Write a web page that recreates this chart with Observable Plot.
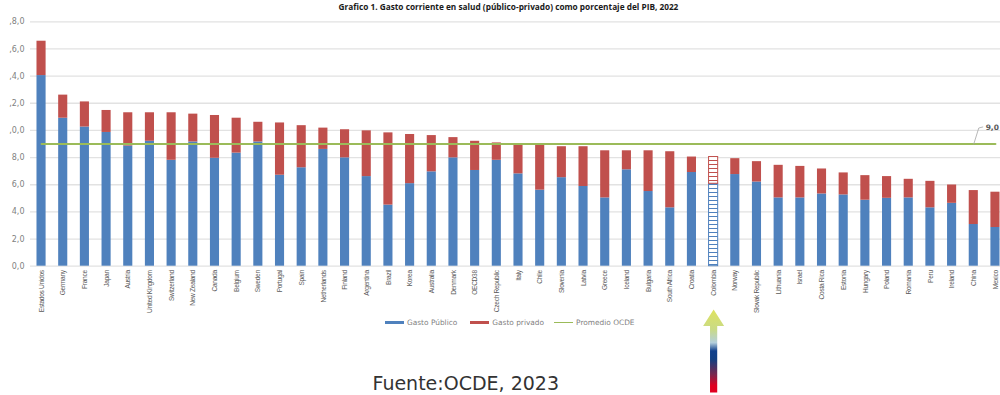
<!DOCTYPE html>
<html lang="es">
<head>
<meta charset="utf-8">
<script src="https://cdn.jsdelivr.net/npm/d3@7"></script>
<script src="https://cdn.jsdelivr.net/npm/@observablehq/plot@0.6"></script>
<style>
  html, body { margin: 0; padding: 0; background: #fff; overflow: hidden; }
  #chart { position: relative; width: 1000px; height: 395px; }
  #chart svg { display: block; }
  #chart svg g[aria-label="x-axis tick label"] text { letter-spacing: -0.3px; }
  .legend { position: absolute; top: 317px; left: 385px; display: flex; align-items: center; height: 11px;
            font: 7.4px "DejaVu Sans", sans-serif; color: #7f7f7f; white-space: nowrap; }
  .legend i { display: inline-block; width: 19px; margin-right: 3px; }
  .legend span { margin-right: 13px; }
  .legend span.tight { margin-right: 10px; }
</style>
</head>
<body>
<div id="chart"></div>
<script>
const countries = ["Estados Unidos","Germany","France","Japan","Austria","United Kingdom","Switzerland","New Zealand","Canada","Belgium","Sweden","Portugal","Spain","Netherlands","Finland","Argentina","Brazil","Korea","Australia","Denmark","OECD38","Czech Republic","Italy","Chile","Slovenia","Latvia","Greece","Iceland","Bulgaria","South Africa","Croatia","Colombia","Norway","Slovak Republic","Lithuania","Israel","Costa Rica","Estonia","Hungary","Poland","Romania","Peru","Ireland","China","Mexico"];
const publicSpend = [14.04,10.9,10.25,9.85,8.85,9.2,7.8,9.15,7.95,8.33,9.15,6.7,7.25,8.6,7.98,6.6,4.5,6.08,6.95,7.98,7.05,7.8,6.8,5.6,6.52,5.87,5.03,7.1,5.5,4.3,6.9,6.07,6.75,6.2,5.03,5.03,5.32,5.25,4.86,5.0,5.03,4.3,4.63,3.07,2.85];
const privateSpend = [2.53,1.7,1.85,1.62,2.45,2.1,3.5,2.05,3.15,2.57,1.45,3.85,3.1,1.57,2.07,3.37,5.32,3.62,2.67,1.49,2.15,1.28,2.13,3.3,2.28,2.93,3.47,1.4,3.0,4.13,1.14,1.97,1.17,1.5,2.4,2.32,1.84,1.62,1.81,1.6,1.37,1.95,1.35,2.5,2.6];
const oecdAverage = 9;
const yTicks = [0,2,4,6,8,10,12,14,16,18];
const yTickLabels = ["0,0","2,0","4,0","6,0","8,0",",0,0",",2,0",",4,0",",6,0",",8,0"];
const arrowBase = -9.3;

const BLUE = "#4f81bd", RED = "#c0504d", GREEN = "#9bbb59";

const rows = countries.map((country, i) => ({
  country, pub: publicSpend[i], priv: privateSpend[i], total: publicSpend[i] + privateSpend[i], avg: oecdAverage
}));
const solid = rows.filter(d => d.country !== "Colombia");
const hatched = rows.filter(d => d.country === "Colombia");

// Elbow leader running from the average line up to its value label
const leaderShape = {
  draw(context) {
    context.moveTo(0, 0);
    context.lineTo(5, -16);
    context.lineTo(9, -17);
  }
};
// Block arrow pointing up at the highlighted country
const arrowShape = {
  draw(context, l) {
    context.moveTo(0, -l);
    context.lineTo(10.5, -l + 16.5);
    context.lineTo(3.6, -l + 16.5);
    context.lineTo(3.6, 0);
    context.lineTo(-3.6, 0);
    context.lineTo(-3.6, -l + 16.5);
    context.lineTo(-10.5, -l + 16.5);
    context.closePath();
  }
};

const chart = Plot.plot({
  width: 1000,
  height: 395,
  marginLeft: 30,
  marginRight: 0,
  marginTop: 0,
  marginBottom: 129.3,
  style: { background: "#fff", overflow: "hidden" },
  x: { type: "band", domain: countries, range: [30.2, 1005.8], paddingInner: 0.58, paddingOuter: 0.29, label: null },
  y: { domain: [0, 18], range: [265.7, 21.3], label: null },
  marks: [
    Plot.ruleY(yTicks, { stroke: "#e2e2e2", strokeWidth: 1.3 }),
    Plot.axisY({
      ticks: yTicks, tickSize: 0, tickPadding: 6, label: null,
      tickFormat: d => yTickLabels[yTicks.indexOf(d)],
      fontSize: 8, fontFamily: "DejaVu Sans", fill: "#7f7f7f"
    }),
    Plot.axisX({
      tickSize: 0, tickPadding: 4, tickRotate: -90, label: null,
      fontSize: 6.6, fontFamily: "Liberation Sans", fill: "#595959"
    }),
    Plot.barY(solid, { x: "country", y1: 0, y2: "pub", fill: BLUE }),
    Plot.barY(solid, { x: "country", y1: "pub", y2: "total", fill: RED }),
    Plot.barY(hatched, { x: "country", y1: 0, y2: "pub", fill: "url(#hatch-blue)", stroke: BLUE, strokeWidth: 1 }),
    Plot.barY(hatched, { x: "country", y1: "pub", y2: "total", fill: "url(#hatch-red)", stroke: RED, strokeWidth: 1 }),
    Plot.line(rows, { x: "country", y: "avg", stroke: GREEN, strokeWidth: 2 }),
    Plot.vector(rows.filter(d => d.country === "China"), {
      x: "country", y: "avg", length: 17, anchor: "start", shape: leaderShape, stroke: "#a6a6a6", strokeWidth: 0.8
    }),
    Plot.text(rows.filter(d => d.country === "China"), {
      x: "country", y: "avg", text: d => d3.format(".1f")(d.avg).replace(".", ","),
      dx: 18.5, dy: -16, fontSize: 7.5, fontWeight: "bold", fontFamily: "DejaVu Sans", fill: "#595959"
    }),
    Plot.vector(hatched, {
      x: "country", y: () => arrowBase, length: 83, anchor: "start", shape: arrowShape,
      fill: "url(#arrow-fade)", stroke: "none"
    }),
    Plot.text(["Grafico 1. Gasto corriente en salud (público-privado) como porcentaje del PIB, 2022"], {
      frameAnchor: "top-left", dx: 308, dy: 3.5, textAnchor: "start", fontSize: 8.27, fontWeight: "bold",
      fontFamily: "Open Sans", fill: "#1a1a1a"
    }),
    Plot.text(["Fuente:OCDE, 2023"], {
      frameAnchor: "top-left", dx: 342, dy: 376, textAnchor: "start", fontSize: 19,
      fontFamily: "DejaVu Sans", fill: "#333333"
    })
  ]
});

// Stripe fills for the highlighted bar and the colour ramp of the arrow
const defs = d3.select(chart).insert("defs", ":first-child");
[["hatch-blue", BLUE], ["hatch-red", RED]].forEach(([id, color]) => {
  const p = defs.append("pattern").attr("id", id).attr("patternUnits", "userSpaceOnUse")
    .attr("width", 8).attr("height", 4);
  p.append("rect").attr("width", 8).attr("height", 4).attr("fill", "#fff");
  p.append("rect").attr("width", 8).attr("height", 1).attr("fill", color);
});
const ramp = defs.append("linearGradient").attr("id", "arrow-fade")
  .attr("x1", 0).attr("y1", 0).attr("x2", 0).attr("y2", 1);
[[0, "#dfe35f"], [0.24, "#c9da86"], [0.4, "#b4cfdc"], [0.5, "#10408c"], [0.6, "#123f82"], [0.78, "#77284f"], [0.92, "#e00020"], [1, "#e00020"]]
  .forEach(([o, c]) => ramp.append("stop").attr("offset", o).attr("stop-color", c));

const root = document.getElementById("chart");
root.appendChild(chart);

// Series key under the chart
const legend = document.createElement("div");
legend.className = "legend";
legend.innerHTML =
  `<i style="height:3.5px;background:${BLUE}"></i><span>Gasto Público</span>` +
  `<i style="height:3.5px;background:${RED}"></i><span class="tight">Gasto privado</span>` +
  `<i style="height:1.5px;background:${GREEN}"></i><span>Promedio OCDE</span>`;
root.appendChild(legend);
</script>
</body>
</html>
